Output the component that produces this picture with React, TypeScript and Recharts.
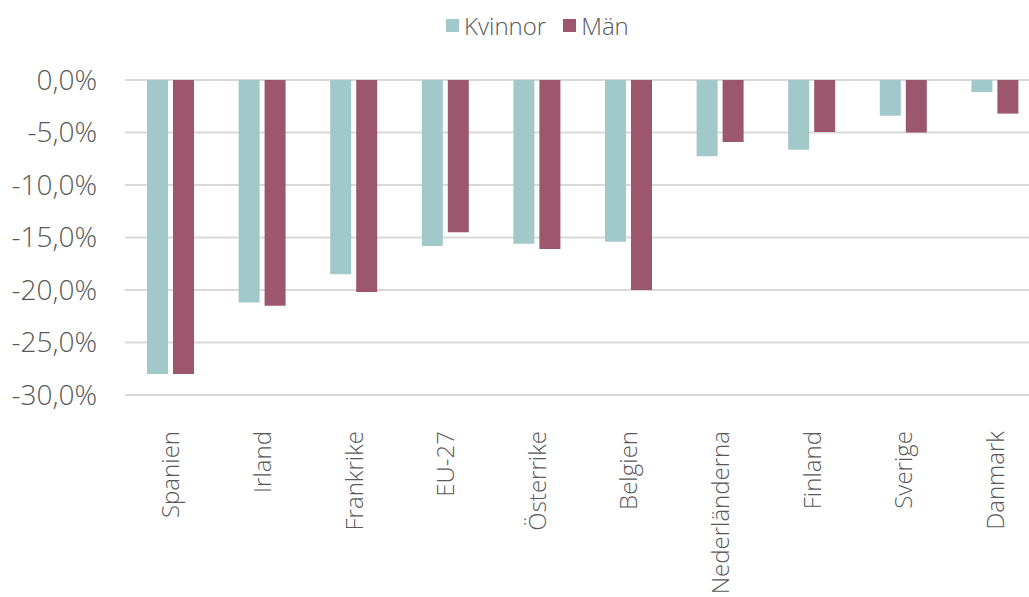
import React from "react";
import { BarChart, Bar, XAxis, YAxis, CartesianGrid } from "recharts";

const countries = [
  "Spanien",
  "Irland",
  "Frankrike",
  "EU-27",
  "Österrike",
  "Belgien",
  "Nederländerna",
  "Finland",
  "Sverige",
  "Danmark",
];
const kvinnor = [-28.0, -21.2, -18.5, -15.8, -15.6, -15.4, -7.25, -6.65, -3.4, -1.15];
const man = [-28.0, -21.5, -20.2, -14.5, -16.1, -20.0, -5.9, -4.95, -5.0, -3.2];
const yTicks = [0, -5, -10, -15, -20, -25, -30];

const TEAL = "#A1C9C9";
const WINE = "#9C566E";
const TEXT = "#595959";
const FONT = "'Open Sans', Lato, sans-serif";

const data = countries.map((c, i) => ({ name: c, kvinnor: kvinnor[i], man: man[i] }));

const fmt = (v: number) => `${v.toFixed(1).replace(".", ",")}%`;

const CountryTick = (props: any) => {
  const { x, y, payload } = props;
  return (
    <text
      x={x}
      y={y}
      transform={`rotate(-90 ${x} ${y})`}
      textAnchor="end"
      dy="0.36em"
      fontSize={24}
      fontWeight={300}
      fontFamily={FONT}
      fill={TEXT}
    >
      {payload.value}
    </text>
  );
};

export default function App() {
  return (
    <div
      style={{
        position: "fixed",
        left: 0,
        top: 0,
        width: 1029,
        height: 597,
        overflow: "hidden",
        background: "#fff",
      }}
    >
      <div
        style={{
          position: "absolute",
          left: 446,
          top: 9,
          display: "flex",
          alignItems: "center",
          fontFamily: FONT,
          fontWeight: 300,
          fontSize: 24,
          color: TEXT,
        }}
      >
        <span style={{ width: 13, height: 13, background: TEAL, marginRight: 5 }} />
        <span style={{ marginRight: 17 }}>Kvinnor</span>
        <span style={{ width: 13, height: 13, background: WINE, marginRight: 5 }} />
        <span>Män</span>
      </div>
      <BarChart
        width={1041}
        height={597}
        data={data}
        margin={{ top: 80, right: 0, left: 0, bottom: 0 }}
        barSize={21}
        barGap={5}
      >
        <CartesianGrid vertical={false} stroke="#D9D9D9" strokeWidth={2} />
        <XAxis
          dataKey="name"
          interval={0}
          height={202}
          axisLine={false}
          tickLine={false}
          tick={<CountryTick />}
          tickMargin={30}
        />
        <YAxis
          width={125}
          domain={[-30, 0]}
          ticks={yTicks}
          axisLine={false}
          tickLine={false}
          tickMargin={22}
          tickFormatter={fmt}
          tick={{ fill: TEXT, fontSize: 28, fontWeight: 300, fontFamily: FONT }}
        />
        <Bar dataKey="kvinnor" fill={TEAL} isAnimationActive={false} />
        <Bar dataKey="man" fill={WINE} isAnimationActive={false} />
      </BarChart>
    </div>
  );
}
